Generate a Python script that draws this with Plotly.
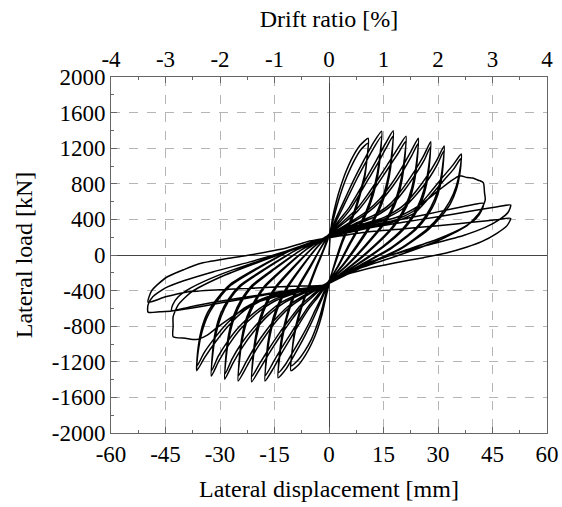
import plotly.graph_objects as go

# ---- data: displacement [mm] and load [kN]; two cycles per drift level ----
disp_c01 = [0.4, 1.0, 2.0, 3.3, 4.6, 6.5, 8.5, 10.8, 10.5, 9.8, 8.5, 7.0, 5.3, 3.5, 1.5, 0.3,
            -1.0, -2.0, -3.3, -4.6, -6.4, -8.3, -10.5, -10.2, -9.5, -8.3, -6.8, -5.2, -3.5, -1.5, 0.4]
load_c01 = [250, 420, 600, 780, 930, 1100, 1230, 1311, 1100, 900, 700, 500, 330, 150, -100, -280,
            -500, -680, -850, -980, -1120, -1230, -1300, -1100, -900, -700, -500, -330, -150, 50, 250]
disp_c01b = [0.1, 1.2, 2.3, 3.6, 5.0, 6.8, 8.7, 10.7, 10.4, 9.8, 8.6, 7.2, 5.5, 3.7, 1.6, 0.0,
             -1.2, -2.3, -3.6, -4.9, -6.7, -8.5, -10.4, -10.1, -9.5, -8.4, -6.9, -5.4, -3.7, -1.6, 0.1]
load_c01b = [235, 400, 570, 740, 890, 1050, 1180, 1255, 1060, 870, 680, 490, 320, 140, -110, -295,
             -490, -660, -820, -950, -1080, -1180, -1245, -1060, -870, -680, -490, -325, -145, 55, 235]

disp_c02 = [0.2, 1.8, 3.6, 5.5, 7.5, 9.8, 12.2, 14.5, 14.1, 13.3, 12.0, 10.3, 8.2, 5.5, 2.5, 0.1,
            -1.8, -3.5, -5.3, -7.3, -9.5, -11.8, -14.0, -13.6, -12.8, -11.6, -10.0, -8.0, -5.3, -2.5, 0.2]
load_c02 = [240, 400, 560, 730, 900, 1080, 1260, 1390, 1150, 920, 700, 500, 320, 120, -120, -292,
            -480, -640, -800, -960, -1120, -1280, -1380, -1150, -930, -710, -510, -340, -150, 60, 240]
disp_c02b = [-0.1, 2.1, 3.9, 5.8, 7.8, 10.1, 12.4, 14.4, 14.1, 13.4, 12.2, 10.5, 8.4, 5.7, 2.6, -0.2,
             -2.0, -3.8, -5.6, -7.6, -9.8, -12.0, -13.9, -13.6, -12.9, -11.7, -10.2, -8.2, -5.5, -2.6, -0.1]
load_c02b = [228, 390, 540, 700, 865, 1040, 1210, 1330, 1110, 890, 680, 485, 310, 115, -125, -302,
             -470, -620, -775, -925, -1080, -1230, -1320, -1100, -895, -690, -495, -330, -145, 58, 228]

disp_c03 = [0.0, 2.8, 5.5, 8.0, 10.5, 13.0, 15.5, 17.7, 17.3, 16.5, 15.2, 13.4, 11.2, 7.8, 3.8, -0.1,
            -2.8, -5.5, -8.0, -10.5, -13.0, -15.4, -17.6, -17.2, -16.4, -15.1, -13.3, -11.1, -7.7, -3.8, 0.0]
load_c03 = [232, 390, 530, 700, 880, 1060, 1250, 1395, 1150, 920, 700, 500, 330, 120, -110, -302,
            -460, -600, -760, -930, -1100, -1280, -1415, -1170, -940, -720, -520, -350, -150, 60, 232]
disp_c03b = [-0.3, 3.1, 5.8, 8.3, 10.8, 13.3, 15.7, 17.6, 17.3, 16.6, 15.4, 13.6, 11.4, 8.0, 3.9, -0.4,
             -3.1, -5.8, -8.3, -10.8, -13.3, -15.6, -17.5, -17.2, -16.5, -15.3, -13.5, -11.3, -7.9, -3.9, -0.3]
load_c03b = [221, 375, 510, 675, 850, 1020, 1200, 1335, 1105, 885, 675, 485, 320, 110, -115, -309,
             -450, -585, -740, -900, -1060, -1225, -1355, -1125, -905, -695, -505, -340, -148, 58, 221]

disp_c04 = [-0.2, 4.0, 7.5, 10.5, 13.3, 16.0, 18.8, 21.2, 20.8, 20.0, 18.7, 16.8, 14.3, 10.0, 5.0, -0.3,
            -4.0, -7.5, -10.5, -13.4, -16.1, -18.9, -21.3, -20.9, -20.1, -18.8, -16.9, -14.4, -10.1, -5.0, -0.2]
load_c04 = [224, 380, 510, 670, 840, 1010, 1190, 1335, 1100, 880, 670, 480, 320, 110, -110, -310,
            -450, -580, -740, -910, -1080, -1270, -1425, -1180, -950, -730, -530, -360, -160, 60, 224]
disp_c04b = [-0.5, 4.3, 7.8, 10.8, 13.6, 16.3, 19.0, 21.1, 20.8, 20.1, 18.9, 17.0, 14.5, 10.2, 5.1, -0.6,
             -4.3, -7.8, -10.8, -13.7, -16.4, -19.1, -21.2, -20.9, -20.2, -19.0, -17.1, -14.6, -10.3, -5.1, -0.5]
load_c04b = [214, 365, 490, 645, 810, 975, 1140, 1275, 1055, 845, 645, 465, 310, 105, -115, -315,
             -440, -565, -720, -880, -1045, -1220, -1365, -1135, -915, -705, -515, -350, -155, 58, 214]

disp_c05 = [-0.4, 5.5, 10.0, 14.0, 17.2, 20.0, 22.5, 24.6, 24.2, 23.4, 22.0, 20.0, 17.3, 12.3, 6.3, -0.5,
            -5.5, -10.0, -14.0, -17.2, -20.0, -22.6, -25.0, -24.6, -23.8, -22.4, -20.3, -17.6, -12.5, -6.3, -0.4]
load_c05 = [216, 360, 480, 630, 800, 980, 1160, 1311, 1080, 860, 650, 470, 310, 100, -110, -318,
            -440, -560, -720, -890, -1060, -1250, -1415, -1170, -940, -720, -530, -360, -160, 60, 216]
disp_c05b = [-0.7, 5.8, 10.3, 14.3, 17.5, 20.3, 22.7, 24.5, 24.2, 23.5, 22.2, 20.2, 17.5, 12.5, 6.4, -0.8,
             -5.8, -10.3, -14.3, -17.5, -20.3, -22.8, -24.9, -24.6, -23.9, -22.6, -20.5, -17.8, -12.7, -6.4, -0.7]
load_c05b = [207, 350, 465, 610, 770, 940, 1110, 1250, 1035, 825, 625, 455, 300, 95, -115, -321,
             -430, -545, -700, -860, -1025, -1200, -1355, -1125, -905, -695, -515, -350, -155, 58, 207]

disp_c06 = [-0.6, 7.0, 12.5, 17.0, 20.5, 23.5, 26.0, 28.0, 27.6, 26.8, 25.4, 23.3, 20.4, 14.6, 7.5, -0.7,
            -7.0, -12.5, -17.0, -20.7, -23.9, -26.5, -28.7, -28.3, -27.5, -26.1, -24.0, -21.0, -15.0, -7.5, -0.6]
load_c06 = [208, 350, 450, 580, 760, 940, 1110, 1273, 1050, 840, 640, 460, 300, 90, -110, -325,
            -430, -540, -690, -860, -1040, -1220, -1395, -1150, -925, -710, -520, -350, -160, 60, 208]
disp_c06b = [-0.9, 7.3, 12.8, 17.3, 20.8, 23.8, 26.2, 27.9, 27.6, 26.9, 25.6, 23.5, 20.6, 14.8, 7.6, -1.0,
             -7.3, -12.8, -17.3, -21.0, -24.2, -26.7, -28.6, -28.3, -27.6, -26.3, -24.2, -21.2, -15.2, -7.6, -0.9]
load_c06b = [200, 340, 435, 560, 730, 905, 1065, 1215, 1005, 805, 615, 445, 290, 85, -115, -328,
             -420, -525, -670, -830, -1000, -1170, -1335, -1105, -890, -685, -505, -340, -155, 58, 200]

disp_c07 = [-0.8, 8.5, 15.0, 20.0, 24.0, 27.2, 29.7, 31.7, 31.3, 30.5, 29.0, 26.8, 23.6, 17.0, 8.7, -0.9,
            -8.5, -15.0, -20.0, -24.3, -27.6, -30.3, -32.4, -32.0, -31.2, -29.7, -27.5, -24.3, -17.5, -8.8, -0.8]
load_c07 = [200, 340, 420, 540, 720, 900, 1070, 1225, 1010, 810, 620, 450, 290, 80, -110, -332,
            -420, -520, -660, -830, -1010, -1190, -1360, -1120, -900, -690, -510, -350, -160, 60, 200]
disp_c07b = [-1.1, 8.8, 15.3, 20.3, 24.3, 27.5, 29.9, 31.6, 31.3, 30.6, 29.2, 27.0, 23.8, 17.2, 8.8, -1.2,
             -8.8, -15.3, -20.3, -24.6, -27.9, -30.5, -32.3, -32.0, -31.3, -29.9, -27.7, -24.5, -17.7, -8.9, -1.1]
load_c07b = [193, 330, 405, 520, 690, 860, 1025, 1170, 965, 775, 595, 435, 280, 75, -115, -334,
             -410, -505, -640, -800, -970, -1140, -1300, -1075, -865, -665, -495, -340, -155, 58, 193]

disp_c08 = [-1.0, 10.0, 18.0, 23.5, 27.8, 31.2, 34.1, 36.4, 36.0, 35.0, 33.2, 30.5, 27.0, 19.5, 10.0, -1.1,
            -10.0, -18.0, -23.5, -27.8, -31.3, -34.2, -36.4, -36.0, -35.0, -33.2, -30.5, -27.0, -19.5, -10.0, -1.0]
load_c08 = [194, 320, 390, 500, 700, 870, 1010, 1135, 950, 770, 600, 440, 290, 70, -110, -338,
            -410, -500, -630, -800, -980, -1150, -1300, -1080, -870, -670, -500, -340, -150, 60, 194]
disp_c08b = [-1.3, 10.3, 18.3, 23.8, 28.1, 31.5, 34.3, 36.3, 36.0, 35.1, 33.4, 30.7, 27.2, 19.7, 10.1, -1.4,
             -10.3, -18.3, -23.8, -28.1, -31.6, -34.4, -36.3, -36.0, -35.1, -33.4, -30.7, -27.2, -19.7, -10.1, -1.3]
load_c08b = [187, 310, 375, 480, 670, 835, 965, 1085, 910, 740, 575, 425, 280, 65, -115, -340,
             -400, -490, -610, -770, -940, -1100, -1245, -1035, -835, -645, -485, -330, -145, 58, 187]

disp_c09 = [-1.3, 10, 19, 25, 30, 33.5, 36, 38, 39.5, 40.5, 41.5, 42.5, 42.8, 43, 41.5, 38, 30, 18, 7, -1.4,
            -10, -19, -25, -30, -33.5, -36.5, -39.5, -42.9, -42.9, -42.9, -41.5, -38, -30, -18, -7, -1.3]
load_c09 = [185, 330, 430, 560, 720, 830, 890, 870, 865, 850, 835, 810, 700, 620, 480, 330, 160, -20, -170, -340,
            -420, -520, -650, -790, -900, -950, -935, -918, -800, -693, -560, -420, -250, -60, 100, 185]

disp_c10 = [-1.3, 8, 17, 26, 34, 39.5, 42.5, 42, 40.5, 37, 30, 20, 9, -1.4,
            -8, -17, -26, -34, -40, -43.3, -43, -41.5, -38, -30, -18, -7, -1.3]
load_c10 = [185, 300, 375, 450, 520, 565, 580, 500, 410, 310, 180, 40, -120, -340,
            -380, -445, -510, -570, -610, -625, -560, -470, -370, -220, -50, 100, 185]

disp_c11 = [-1.3, 10, 20, 30, 40, 46, 50, 49.3, 47, 43, 37, 28, 18, 8, -1.4,
            -10, -20, -30, -38, -43.3, -46.5, -49.8, -49.8, -48.5, -45, -40, -32, -22, -12, -5, -1.3]
load_c11 = [185, 295, 365, 430, 500, 540, 562, 480, 400, 310, 220, 120, 10, -130, -340,
            -390, -455, -520, -580, -630, -638, -642, -560, -470, -370, -290, -190, -80, 40, 140, 185]

disp_c12 = [-1.3, 10, 20, 30, 40, 46, 50, 49, 46.2, 42, 38, 32, 26, 18, 10, 4, -1.4,
            -10, -20, -30, -39, -45, -49.8, -48.8, -44.7, -40, -35.5, -28, -21.8, -12, -6, -1.3]
load_c12 = [185, 255, 292, 330, 370, 395, 412, 330, 244, 150, 90, 20, -30, -90, -160, -230, -340,
            -350, -370, -390, -415, -470, -530, -400, -250, -165, -95, -40, 0, 75, 150, 185]

cycles_disp = [disp_c01, disp_c01b, disp_c02, disp_c02b, disp_c03, disp_c03b, disp_c04, disp_c04b,
               disp_c05, disp_c05b, disp_c06, disp_c06b, disp_c07, disp_c07b, disp_c08, disp_c08b,
               disp_c09, disp_c10, disp_c11, disp_c12]
cycles_load = [load_c01, load_c01b, load_c02, load_c02b, load_c03, load_c03b, load_c04, load_c04b,
               load_c05, load_c05b, load_c06, load_c06b, load_c07, load_c07b, load_c08, load_c08b,
               load_c09, load_c10, load_c11, load_c12]

x_ticks = [-60, -45, -30, -15, 0, 15, 30, 45, 60]
x_tick_labels = ["-60", "-45", "-30", "-15", "0", "15", "30", "45", "60"]
y_ticks = [-2000, -1600, -1200, -800, -400, 0, 400, 800, 1200, 1600, 2000]
y_tick_labels = ["-2000", "-1600", "-1200", "-800", "-400", "0", "400", "800", "1200", "1600", "2000"]
drift_ticks = [-4, -3, -2, -1, 0, 1, 2, 3, 4]
drift_tick_labels = ["-4", "-3", "-2", "-1", "0", "1", "2", "3", "4"]

xs, ys = [0.0], [0.0]
for d, l in zip(cycles_disp, cycles_load):
    xs += d
    ys += l

FONT = "Liberation Serif"
fig = go.Figure()
fig.add_trace(go.Scatter(x=xs, y=ys, mode="lines",
                         line=dict(color="black", width=1.5, shape="spline", smoothing=0.6),
                         showlegend=False, hoverinfo="skip"))
fig.add_trace(go.Scatter(x=[drift_ticks[0], drift_ticks[-1]], y=[0, 0], xaxis="x2", mode="markers",
                         marker=dict(opacity=0), showlegend=False, hoverinfo="skip"))

axis_common = dict(showline=True, linecolor="#666", linewidth=1, ticks="inside", ticklen=6,
                   tickcolor="#666", automargin=False,
                   tickfont=dict(family=FONT, size=23, color="black"))
title_font = dict(family=FONT, size=24, color="black")

fig.update_layout(
    width=562, height=507,
    margin=dict(l=111, r=15, t=77, b=74),
    paper_bgcolor="white", plot_bgcolor="white",
    xaxis=dict(range=[-60, 60], tickvals=x_ticks, ticktext=x_tick_labels, mirror=True,
               showgrid=True, gridcolor="#b5b5b5", griddash="dash", gridwidth=1,
               zeroline=True, zerolinecolor="#444", zerolinewidth=1,
               minor=dict(tickvals=[-52.5, -37.5, -22.5, -7.5, 7.5, 22.5, 37.5, 52.5],
                          ticks="inside", ticklen=3, tickcolor="#666", showgrid=False),
               title=dict(text="Lateral displacement [mm]", font=title_font, standoff=14),
               **axis_common),
    xaxis2=dict(range=[-4, 4], overlaying="x", side="top", tickvals=drift_ticks, ticktext=drift_tick_labels,
                showgrid=False, zeroline=False,
                minor=dict(tickvals=[-3.5, -2.5, -1.5, -0.5, 0.5, 1.5, 2.5, 3.5],
                           ticks="inside", ticklen=3, tickcolor="#666"),
                title=dict(text="Drift ratio [%]", font=title_font, standoff=12),
                **axis_common),
    yaxis=dict(range=[-2000, 2000], tickvals=y_ticks, ticktext=y_tick_labels, mirror=True,
               showgrid=True, gridcolor="#b5b5b5", griddash="dash", gridwidth=1,
               zeroline=True, zerolinecolor="#444", zerolinewidth=1,
               minor=dict(tickvals=[-1800, -1400, -1000, -600, -200, 200, 600, 1000, 1400, 1800],
                          ticks="inside", ticklen=3, tickcolor="#666", showgrid=False),
               title=dict(text="Lateral load [kN]", font=title_font, standoff=12),
               **axis_common),
)

fig.write_html("out.html")
